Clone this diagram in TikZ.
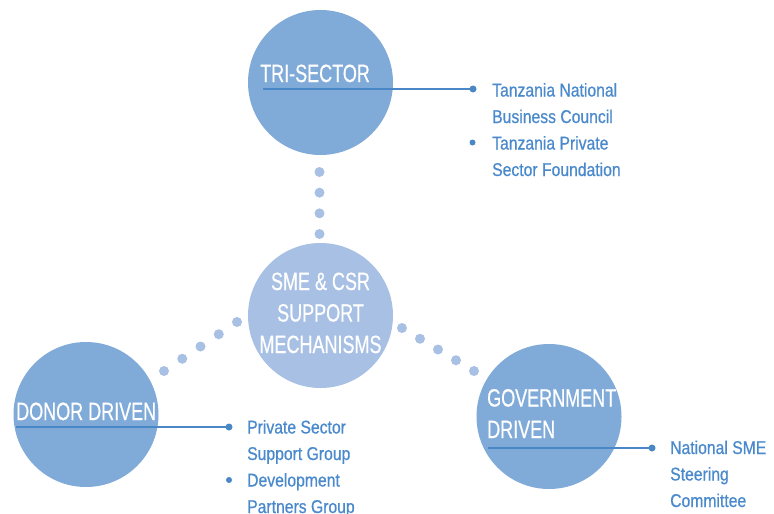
\documentclass[tikz,border=0pt]{standalone}
\usepackage{fontspec}
\newfontfamily\titlefont{Liberation Sans}[FakeStretch=0.72,FakeBold=0.5]
\newfontfamily\bodyfont{Liberation Sans}[FakeStretch=0.85,FakeBold=0.7]
\usetikzlibrary{calc}
\definecolor{circ}{HTML}{80AAD8}
\definecolor{circlight}{HTML}{A7C0E4}
\definecolor{linec}{HTML}{4A87C7}
\definecolor{textc}{HTML}{4A89CB}
\tikzset{
  bigcirc/.style={circle, fill=circ, minimum size=145pt, inner sep=0pt},
  midcirc/.style={circle, fill=circlight, minimum size=145pt, inner sep=0pt},
  title/.style={text=white, font=\titlefont\fontsize{25}{31.5}\selectfont, inner sep=0pt},
  item/.style={text=textc, font=\bodyfont\fontsize{18.5}{26.5}\selectfont, align=left, anchor=base west, inner sep=0pt},
  lead/.style={draw=linec, line width=2.6pt},
  enddot/.style={fill=linec},
  linkdot/.style={fill=circlight}
}
\begin{document}
\begin{tikzpicture}[x=1pt,y=-1pt]
\useasboundingbox (0,0) rectangle (774,514);
% circles
\node[bigcirc] (tri) at (320.5,82.5) {};
\node[midcirc] (sme) at (320.5,315.5) {};
\node[bigcirc] (donor) at (86,414.5) {};
\node[bigcirc] (gov) at (549,416.5) {};
% dotted links
\coordinate (t1) at (319.5,172);
\coordinate (t2) at (319.5,234);
\coordinate (l1) at (164,371);
\coordinate (l2) at (237,322);
\coordinate (r1) at (402,328);
\coordinate (r2) at (474,371);
\foreach \t in {0,0.3333,0.6667,1} \fill[linkdot] ($(t1)!\t!(t2)$) circle (5pt);
\foreach \t in {0,0.25,0.5,0.75,1} \fill[linkdot] ($(l1)!\t!(l2)$) circle (5pt);
\foreach \t in {0,0.25,0.5,0.75,1} \fill[linkdot] ($(r1)!\t!(r2)$) circle (5pt);
% titles (anchor base = baseline of the last line)
\node[title, anchor=base west] (tritxt) at (260,82) {TRI-SECTOR};
\node[title, align=center, anchor=base] (smetxt) at (320.5,353) {SME \& CSR\\SUPPORT\\MECHANISMS};
\node[title, anchor=base west] (donortxt) at (16,420) {DONOR DRIVEN};
\node[title, align=left, anchor=base west] (govtxt) at (487,438) {GOVERNMENT\\DRIVEN};
% leaders
\coordinate (triA) at (263,89);
\coordinate (triB) at (473,89);
\draw[lead] (triA) -- (triB);
\fill[enddot] (triB) circle (3.5pt);
\coordinate (donA) at (16,427);
\coordinate (donB) at (229,427);
\draw[lead] (donA) -- (donB);
\fill[enddot] (donB) circle (3.5pt);
\coordinate (govA) at (488,448);
\coordinate (govB) at (652,448);
\draw[lead] (govA) -- (govB);
\fill[enddot] (govB) circle (3.5pt);
% bullet items
\node[item] (tri1) at (492,123) {Tanzania National\\Business Council};
\coordinate (trib2) at (472.5,142.5);
\fill[enddot] (trib2) circle (3pt);
\node[item] (tri2) at (492,176) {Tanzania Private\\Sector Foundation};
\node[item] (don1) at (247,460) {Private Sector\\Support Group};
\coordinate (donb2) at (229,480);
\fill[enddot] (donb2) circle (3pt);
\node[item] (don2) at (247,513) {Development\\Partners Group};
\node[item] (gov1) at (670,507) {National SME\\Steering\\Committee};
\end{tikzpicture}
\end{document}
